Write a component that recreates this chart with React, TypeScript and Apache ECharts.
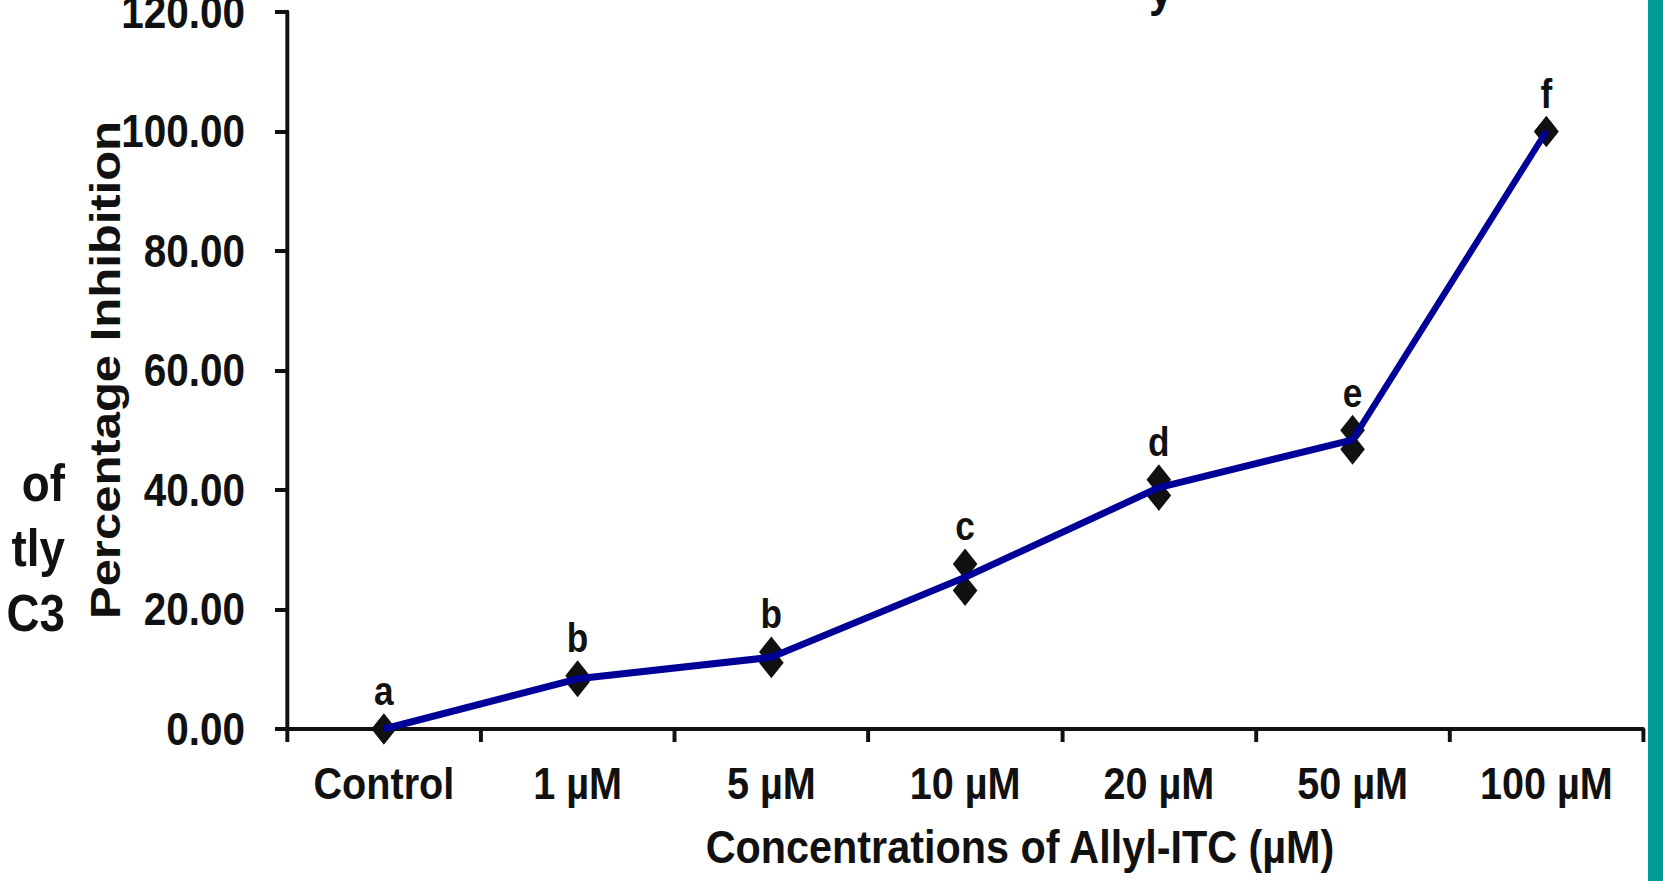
import React, { useEffect, useRef } from 'react';
import * as echarts from 'echarts';

const categories = ['Control', '1 µM', '5 µM', '10 µM', '20 µM', '50 µM', '100 µM'];
const meanInhibition = [0, 8.4, 12.0, 25.4, 40.4, 48.4, 100];
const errorSD = [0, 0.5, 0.9, 2.2, 1.3, 1.6, 0];
const significanceLetters = ['a', 'b', 'b', 'c', 'd', 'e', 'f'];
const yMin = 0;
const yMax = 120;
const yInterval = 20;
const xAxisTitle = 'Concentrations of Allyl-ITC (µM)';
const yAxisTitle = 'Percentage Inhibition';
const sideFragments = ['of', 'tly', 'C3'];

// the reference figure is horizontally condensed; reproduce via a uniform x squash
const SQ = 0.88;
const W = 1663;
const H = 881;
const CW = Math.round(W / SQ);
const px = (x: number) => x / SQ;

const SANS = '"Liberation Sans", Arial, Helvetica, sans-serif';
const INK = '#111111';

export default function App() {
  const ref = useRef<HTMLDivElement>(null);

  useEffect(() => {
    if (!ref.current) return;
    const chart = echarts.init(ref.current, null, { renderer: 'svg' });
    const upper = meanInhibition.map((m, i) => m + errorSD[i]);
    const lower = meanInhibition.map((m, i) => m - errorSD[i]);

    chart.setOption({
      animation: false,
      backgroundColor: '#ffffff',
      grid: {
        left: px(287),
        right: px(20),
        top: 12,
        bottom: 152,
        containLabel: false,
        outerBoundsMode: 'none',
      },
      xAxis: {
        type: 'category',
        data: categories,
        boundaryGap: true,
        axisLine: { show: true, lineStyle: { color: INK, width: 4 } },
        axisTick: { show: true, length: 13, lineStyle: { color: INK, width: 4.5 } },
        axisLabel: {
          show: true,
          color: INK,
          fontFamily: SANS,
          fontWeight: 'bold',
          fontSize: 45,
          margin: 32,
          interval: 0,
        },
        splitLine: { show: false },
      },
      yAxis: {
        type: 'value',
        min: yMin,
        max: yMax,
        interval: yInterval,
        axisLine: { show: true, lineStyle: { color: INK, width: 4.5 } },
        axisTick: { show: true, length: px(12), lineStyle: { color: INK, width: 4 } },
        axisLabel: {
          color: INK,
          fontFamily: SANS,
          fontWeight: 'bold',
          fontSize: 46,
          margin: px(42),
          formatter: (v: number) => v.toFixed(2),
        },
        splitLine: { show: false },
      },
      series: [
        {
          type: 'scatter',
          data: upper,
          symbol: 'diamond',
          symbolSize: [28, 31],
          itemStyle: { color: INK, opacity: 1 },
          z: 2,
          label: {
            show: true,
            position: 'top',
            distance: 2,
            color: INK,
            fontFamily: SANS,
            fontWeight: 'bold',
            fontSize: 40,
            formatter: (p: any) => significanceLetters[p.dataIndex],
          },
        },
        {
          type: 'scatter',
          data: lower,
          symbol: 'diamond',
          symbolSize: [28, 31],
          itemStyle: { color: INK, opacity: 1 },
          z: 2,
        },
        {
          type: 'line',
          data: meanInhibition,
          showSymbol: false,
          symbol: 'none',
          lineStyle: { color: '#000099', width: 7 },
          z: 3,
        },
      ],
      graphic: [
        {
          type: 'rect',
          shape: { x: px(1648), y: 0, width: px(16), height: H },
          style: { fill: '#009b96' },
          silent: true,
        },
        {
          type: 'text',
          x: px(1020),
          y: 847,
          style: {
            text: xAxisTitle,
            fill: INK,
            font: `bold 47px ${SANS}`,
            align: 'center',
            verticalAlign: 'middle',
          },
        },
        {
          type: 'text',
          x: px(105),
          y: 370,
          rotation: Math.PI / 2,
          style: {
            text: yAxisTitle,
            fill: INK,
            font: `bold 49px ${SANS}`,
            align: 'center',
            verticalAlign: 'middle',
          },
        },
        ...sideFragments.map((t, i) => ({
          type: 'text',
          x: px(65),
          y: 483 + i * 65,
          style: {
            text: t,
            fill: INK,
            font: `bold 52px ${SANS}`,
            align: 'right',
            verticalAlign: 'middle',
          },
        })),
        {
          type: 'text',
          x: px(1161),
          y: 13,
          style: {
            text: 'y',
            fill: INK,
            font: `bold 49px ${SANS}`,
            align: 'center',
            verticalAlign: 'bottom',
          },
        },
      ],
    });

    return () => chart.dispose();
  }, []);

  return (
    <div style={{ position: 'fixed', left: 0, top: 0, width: W, height: H, overflow: 'hidden' }}>
      <div
        ref={ref}
        style={{
          width: CW,
          height: H,
          transform: `scaleX(${SQ})`,
          transformOrigin: '0 0',
        }}
      />
    </div>
  );
}
